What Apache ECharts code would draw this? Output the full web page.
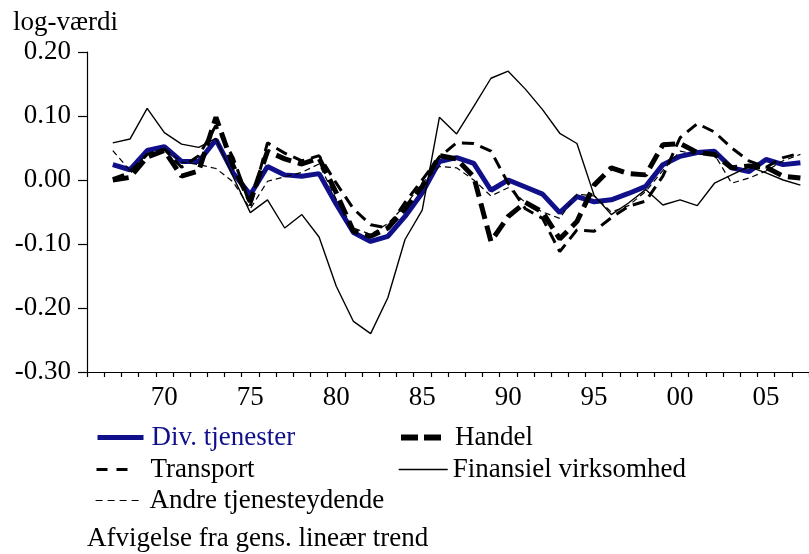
<!DOCTYPE html>
<html>
<head>
<meta charset="utf-8">
<title>Afvigelse fra gens. lineær trend</title>
<script src="https://cdn.jsdelivr.net/npm/echarts@6/dist/echarts.min.js"></script>
<style>
html, body { margin: 0; padding: 0; background: #fff; }
#chart { width: 809px; height: 554px; }
</style>
</head>
<body>
<div id="chart"></div>
<script>
// aarstal paa x-aksen (1966 er tomt, data starter 1967)
var years = ['1966', '1967', '1968', '1969', '1970', '1971', '1972', '1973', '1974', '1975',
    '1976', '1977', '1978', '1979', '1980', '1981', '1982', '1983', '1984', '1985',
    '1986', '1987', '1988', '1989', '1990', '1991', '1992', '1993', '1994', '1995',
    '1996', '1997', '1998', '1999', '2000', '2001', '2002', '2003', '2004', '2005',
    '2006', '2007'];

var divTjenester = [null, 0.024, 0.016, 0.046, 0.052, 0.029, 0.029, 0.063, 0.011, -0.023,
    0.021, 0.008, 0.006, 0.010, -0.038, -0.082, -0.096, -0.088, -0.057, -0.020,
    0.029, 0.035, 0.026, -0.016, 0.000, -0.011, -0.022, -0.051, -0.026, -0.034,
    -0.031, -0.021, -0.010, 0.024, 0.037, 0.043, 0.045, 0.019, 0.013, 0.032,
    0.024, 0.027];

var handel = [null, 0.000, 0.004, 0.036, 0.046, 0.006, 0.014, 0.098, 0.022, -0.034,
    0.045, 0.033, 0.025, 0.034, -0.020, -0.080, -0.088, -0.075, -0.045, -0.010,
    0.038, 0.033, 0.005, -0.096, -0.057, -0.035, -0.050, -0.092, -0.065, -0.008,
    0.019, 0.010, 0.008, 0.055, 0.057, 0.043, 0.040, 0.019, 0.022, 0.020,
    0.006, 0.003];

var transport = [null, 0.002, 0.012, 0.040, 0.048, 0.020, 0.038, 0.085, 0.035, -0.040,
    0.058, 0.042, 0.030, 0.038, -0.005, -0.045, -0.070, -0.075, -0.035, 0.000,
    0.036, 0.058, 0.057, 0.045, -0.005, -0.045, -0.060, -0.112, -0.078, -0.080,
    -0.059, -0.041, -0.033, 0.006, 0.066, 0.088, 0.075, 0.050, 0.030, 0.020,
    0.035, 0.042];

var finansiel = [null, 0.058, 0.064, 0.112, 0.074, 0.056, 0.051, 0.065, 0.005, -0.051,
    -0.031, -0.075, -0.054, -0.089, -0.166, -0.221, -0.240, -0.184, -0.093, -0.047,
    0.098, 0.072, 0.115, 0.159, 0.170, 0.142, 0.110, 0.073, 0.057, -0.024,
    -0.054, -0.036, -0.015, -0.039, -0.031, -0.040, -0.005, 0.008, 0.021, 0.011,
    0.000, -0.008];

var andre = [null, 0.046, 0.015, 0.040, 0.050, 0.028, 0.024, 0.018, -0.003, -0.045,
    -0.002, 0.005, 0.012, 0.025, -0.030, -0.075, -0.085, -0.068, -0.040, -0.005,
    0.021, 0.019, 0.000, -0.025, -0.012, -0.035, -0.050, -0.060, -0.022, -0.025,
    -0.050, -0.040, -0.018, 0.015, 0.045, 0.040, 0.040, -0.005, 0.003, 0.014,
    0.030, 0.040];

var serif = "'Liberation Serif', 'Times New Roman', 'DejaVu Serif', serif";
var blaa = '#10108a';

// en legende pr. punkt for at ramme placeringen
function legende(navn, left, top, w, gap, farve, linje) {
    return {
        data: [{ name: navn, textStyle: { color: farve } }],
        left: left, top: top, padding: 0, itemWidth: w, itemHeight: 14,
        selectedMode: false,
        itemStyle: { opacity: 0 },
        lineStyle: linje,
        textStyle: { fontFamily: serif, fontSize: 27, color: farve, padding: [0, 0, 0, gap] }
    };
}

var myChart = echarts.init(document.getElementById('chart'));
var option = {
    animation: false,
    textStyle: { fontFamily: serif },
    title: [{
        text: 'log-værdi',
        left: 13, top: 9, padding: 0,
        textStyle: { fontFamily: serif, fontSize: 27, fontWeight: 'normal', color: '#000' }
    }, {
        text: 'Afvigelse fra gens. lineær trend',
        left: 87, top: 525, padding: 0,
        textStyle: { fontFamily: serif, fontSize: 27, fontWeight: 'normal', color: '#000' }
    }],
    grid: { left: 87, top: 52, width: 725, height: 320 },
    legend: [
        legende('Div. tjenester', 95, 424, 46, 3, blaa, { color: blaa, width: 5, type: 'solid' }),
        legende('Handel', 398, 424, 40, 9, '#000', { color: '#000', width: 6, type: [17, 6] }),
        legende('Transport', 95, 456, 38, 11, '#000', { color: '#000', width: 3, type: [11, 9] }),
        legende('Finansiel virksomhed', 398, 456, 49, 0, '#000', { color: '#000', width: 1.4, type: 'solid' }),
        legende('Andre tjenesteydende', 95, 487, 43, 6, '#000', { color: '#000', width: 1.2, type: [7, 5] })
    ],
    xAxis: {
        type: 'category',
        data: years,
        boundaryGap: true,
        axisLine: { show: true, onZero: false, lineStyle: { color: '#000', width: 1.2 } },
        axisTick: { show: true, interval: 0, length: 5, lineStyle: { color: '#000', width: 1.2 } },
        axisLabel: {
            interval: function (i, v) { return +v % 5 === 0; },
            formatter: function (v) { return v.slice(2); },
            fontFamily: serif, fontSize: 27, color: '#000', margin: 12
        },
        splitLine: { show: false }
    },
    yAxis: {
        type: 'value',
        min: -0.3, max: 0.2, interval: 0.1,
        axisLine: { show: true, lineStyle: { color: '#000', width: 1.2 } },
        axisTick: { show: true, length: 9, lineStyle: { color: '#000', width: 1.2 } },
        axisLabel: {
            formatter: function (v) { return v.toFixed(2); },
            fontFamily: serif, fontSize: 27, color: '#000', margin: 16
        },
        splitLine: { show: false }
    },
    series: [{
        name: 'Div. tjenester', type: 'line', data: divTjenester, symbol: 'none',
        lineStyle: { color: blaa, width: 5 }, itemStyle: { color: blaa }
    }, {
        name: 'Finansiel virksomhed', type: 'line', data: finansiel, symbol: 'none',
        lineStyle: { color: '#000', width: 1.4 }, itemStyle: { color: '#000' }
    }, {
        name: 'Andre tjenesteydende', type: 'line', data: andre, symbol: 'none',
        lineStyle: { color: '#000', width: 1.2, type: [6, 4] }, itemStyle: { color: '#000' }
    }, {
        name: 'Transport', type: 'line', data: transport, symbol: 'none',
        lineStyle: { color: '#000', width: 3, type: [12, 7] }, itemStyle: { color: '#000' }
    }, {
        name: 'Handel', type: 'line', data: handel, symbol: 'none',
        lineStyle: { color: '#000', width: 5, type: [16, 7] }, itemStyle: { color: '#000' }
    }]
};
myChart.setOption(option);
</script>
</body>
</html>
